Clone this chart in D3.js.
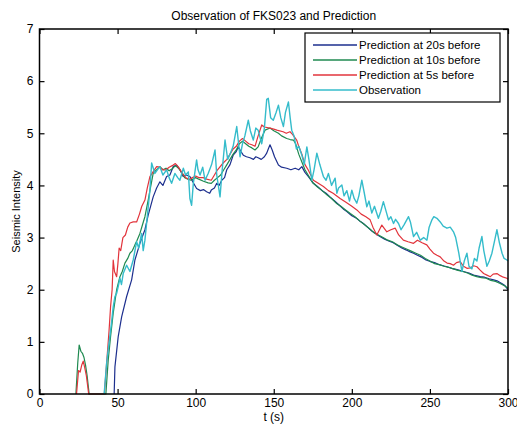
<!DOCTYPE html>
<html>
<head>
<meta charset="utf-8">
<script src="https://cdn.jsdelivr.net/npm/d3@7"></script>
<style>
  body { margin: 0; background: #fff; }
  svg { font-family: "Liberation Sans", Arial, sans-serif; }
</style>
</head>
<body>
<div id="chart"></div>
<script>
// [t (s), seismic intensity]
const pred20 = [
  [47.8,0],[48.3,0.52],[50.4,1.1],[52.6,1.48],[55.8,1.87],[59,2.19],[61.1,2.57],[64.3,2.89],[67.5,3.15],[69.6,3.43],
  [72.8,3.78],[75,3.95],[77.1,4.07],[79,4.0],[81.4,4.17],[83.5,4.2],[85.6,4.36],[87.8,4.39],[90,4.3],[92,4.17],
  [94,4.2],[96.3,4.17],[98.5,4.05],[100.6,3.94],[103,3.9],[105,3.92],[107,3.88],[109,3.85],[110,3.91],[112,3.95],
  [113.5,4.04],[115,4.0],[116.7,4.1],[118.5,4.15],[119.9,4.3],[122,4.4],[124,4.58],[126,4.65],[127.3,4.74],[129,4.65],
  [130.5,4.58],[132.5,4.55],[134.8,4.53],[137,4.5],[138.5,4.55],[140,4.53],[142,4.5],[144,4.55],[145.5,4.62],[146.5,4.7],
  [147.6,4.78],[149,4.68],[150.5,4.55],[153,4.39],[155,4.35],[158.3,4.33],[161,4.3],[163.7,4.33],[166,4.3],[168,4.36],
  [170,4.25],[172.2,4.17],[175.4,4.04],[178,3.98],[181,3.9],[183.5,3.85],[186,3.78],[189,3.7],[192,3.62],[194.5,3.55],
  [196.8,3.5],[200,3.42],[203,3.37],[205,3.32],[207.4,3.27],[210,3.2],[213,3.12],[216,3.06],[218,3.02],[221,2.97],
  [224,2.93],[226.5,2.9],[228.8,2.86],[232,2.8],[235,2.76],[237,2.73],[239.5,2.7],[242,2.66],[245,2.62],[247.5,2.57],
  [250.2,2.54],[253,2.52],[256,2.48],[258.5,2.46],[260.9,2.44],[264,2.41],[268,2.38],[271.5,2.35],[275,2.32],[278,2.28],
  [282.2,2.25],[285,2.24],[288,2.21],[290.8,2.19],[293,2.17],[296,2.12],[298,2.08],[300,2.0]
];

const pred10 = [
  [23.3,0],[24.5,0.6],[25.4,0.94],[26.5,0.82],[27.5,0.78],[28.5,0.7],[29.5,0.55],[30.5,0.35],[31.8,0],[42.5,0],
  [44,0.65],[45.5,1.1],[47.2,1.55],[49.4,2.0],[51.5,2.25],[53,2.35],[54.7,2.51],[56.5,2.6],[57.9,2.7],[59.5,2.75],
  [61.1,2.86],[62.5,2.95],[64.3,3.08],[66,3.25],[67.5,3.4],[69.6,3.72],[71,3.95],[72.8,4.23],[75,4.3],[77.1,4.36],
  [79,4.3],[81,4.33],[83,4.28],[85,4.32],[87,4.38],[89,4.33],[91,4.25],[93,4.15],[95,4.12],[97,4.1],
  [100,4.15],[102,4.12],[105,4.08],[108,4.05],[110,4.04],[112,4.1],[114,4.15],[116,4.2],[118,4.3],[120,4.4],
  [122,4.5],[124,4.6],[126,4.68],[128,4.8],[130,4.85],[132,4.8],[134,4.75],[136,4.72],[138,4.68],[140,4.74],
  [142,4.9],[144.4,5.06],[147.6,5.1],[150,5.05],[153,5.0],[155,4.95],[158.3,4.9],[160.5,4.88],[162.6,4.87],[164,4.8],
  [166,4.6],[168,4.45],[170,4.3],[172,4.2],[175,4.05],[178,3.97],[181,3.9],[184,3.82],[187,3.75],[190,3.66],
  [193,3.6],[196,3.53],[199,3.46],[202,3.4],[205,3.32],[208,3.25],[211,3.18],[214,3.1],[217,3.05],[220,3.0],
  [223,2.95],[226,2.92],[229,2.86],[232,2.82],[235,2.78],[238,2.74],[241,2.7],[244,2.66],[247,2.6],[250,2.55],
  [253,2.5],[256,2.48],[259,2.45],[262,2.43],[265,2.4],[268,2.37],[271,2.35],[274,2.32],[277,2.28],[280,2.25],
  [283,2.23],[286,2.22],[289,2.18],[292,2.16],[295,2.12],[298,2.07],[300,2.03]
];

const pred5 = [
  [23.7,0],[25,0.45],[26,0.42],[27,0.55],[28,0.63],[29,0.5],[30,0.35],[31.5,0],[41.5,0],[43,0.6],
  [44.5,1.2],[45.5,1.67],[46.5,2.0],[47.2,2.57],[48,2.35],[49.4,2.25],[50.2,2.5],[51,2.8],[52,2.75],[53.4,3.0],
  [55,3.05],[56.5,3.2],[57.9,3.28],[60,3.3],[62.2,3.3],[64,3.45],[65.5,3.6],[67.5,3.72],[69,3.95],[70.7,4.17],
  [72.5,4.25],[75,4.36],[77,4.35],[79,4.3],[81,4.3],[83,4.35],[85.6,4.39],[87,4.42],[89,4.35],[91,4.25],
  [94,4.14],[96,4.12],[98,4.15],[100,4.18],[102,4.15],[104.8,4.15],[107,4.12],[110,4.1],[112,4.2],[114,4.3],
  [117.6,4.43],[120,4.5],[122,4.6],[124,4.7],[126,4.75],[128,4.85],[130,4.9],[132,4.85],[134,4.8],[136,4.78],
  [138,4.75],[140,4.95],[142.3,5.16],[144,5.12],[147.6,5.1],[150,5.08],[152,5.06],[156,5.03],[158,5.0],[160.4,5.03],
  [162,4.98],[164.7,4.87],[166,4.75],[168,4.6],[170,4.4],[172,4.3],[175.4,4.1],[178,4.05],[181.8,3.98],[185,3.9],
  [188,3.85],[192.5,3.75],[196,3.68],[200,3.6],[203.2,3.53],[206,3.45],[209,3.4],[211.7,3.34],[213.5,3.2],[216,3.05],
  [219.2,3.24],[222.4,3.11],[225,3.15],[227.8,3.18],[230,3.05],[233,2.95],[236,2.92],[239.5,2.89],[242,2.95],[245,2.9],
  [248,2.86],[250,2.78],[252.3,2.7],[254.5,2.66],[256.6,2.63],[259,2.55],[261,2.51],[263,2.5],[265.1,2.47],[267,2.52],
  [269.4,2.54],[271.5,2.45],[273.7,2.41],[276,2.42],[278,2.46],[280.1,2.44],[282,2.38],[284.4,2.31],[286.5,2.28],[288.7,2.25],
  [290.5,2.3],[292.9,2.31],[295,2.27],[297,2.24],[299.3,2.22],[300,2.2]
];

const observation = [
  [41.4,0],[43,0.6],[44.6,1.0],[46.1,1.36],[47.2,1.67],[48.3,1.87],[49.4,1.93],[50.4,2.06],[51.5,2.22],[52.5,2.1],
  [53.6,2.31],[55.8,2.47],[57.9,2.35],[60,2.57],[62.2,2.92],[63.5,2.8],[65.4,3.08],[66.4,2.75],[67.5,2.95],[69,3.4],
  [70.7,3.91],[71.8,4.43],[73.9,4.23],[75.5,4.3],[77.1,4.36],[79,4.2],[81.4,4.3],[83,4.15],[84.6,4.04],[86.7,4.23],
  [88.5,4.15],[89.9,4.1],[92.1,4.33],[93.5,4.2],[95.3,4.26],[96.3,3.75],[97.4,3.62],[98.5,4.04],[100.6,4.49],[101.5,4.3],
  [102.8,4.2],[104.5,4.35],[106,4.1],[108,4.23],[110.2,4.4],[112.4,4.68],[113.5,4.2],[115.6,3.78],[117,4.3],[118.8,4.87],
  [120.5,4.5],[122,4.6],[124,4.75],[126.3,5.13],[128.4,4.55],[130,4.8],[131.5,4.95],[133.7,5.25],[135,5.05],[136.9,4.87],
  [138.5,5.1],[140,5.06],[142.3,4.8],[144,5.1],[145.5,5.65],[146.5,5.67],[148,5.3],[149.7,5.25],[151.5,5.4],[153,5.54],
  [154.5,5.3],[156.2,5.13],[157.5,5.4],[159.4,5.6],[160.5,5.3],[161.5,5.06],[163,4.95],[164.5,4.7],[166,4.75],[168,4.58],
  [169.5,4.4],[171.2,4.74],[172.5,4.5],[174.4,4.1],[175.8,4.3],[177.6,4.62],[179.5,4.4],[181.8,4.17],[183.5,4.1],[185,4.23],
  [187,4.0],[189.3,4.14],[190.4,3.85],[191.5,3.95],[193.6,4.01],[195,3.8],[196.8,3.9],[198.5,3.7],[200,3.91],[201.5,3.75],
  [203.2,3.66],[204.5,3.8],[206.4,4.1],[208,3.85],[209.6,3.59],[211,3.7],[212.8,3.47],[214.5,3.6],[217,3.37],[218.5,3.5],
  [220.2,3.69],[221.5,3.55],[223.5,3.34],[225,3.4],[226.7,3.27],[228,3.35],[229.9,3.27],[231.5,3.15],[233.5,3.25],[236.3,3.4],
  [237.5,3.3],[239.5,3.02],[241.5,3.1],[243.8,2.95],[246,3.0],[248.1,2.95],[249.5,3.2],[251.3,3.34],[252.5,3.4],[254.5,3.37],
  [256.6,3.3],[258.5,3.22],[260.9,3.18],[263,3.2],[265.1,3.11],[266.5,3.0],[268.5,2.7],[270.5,2.35],[272,2.55],[273.7,2.7],
  [275,2.45],[276.9,2.4],[278.5,2.6],[280.1,2.55],[281.5,2.8],[283.3,3.02],[284.5,2.75],[286.5,2.45],[288,2.55],[289.7,2.7],
  [291.5,2.95],[292.9,3.15],[294.5,2.9],[296.2,2.7],[297.5,2.6],[299.3,2.57],[300,2.55]
];

const seriesNames = ["Prediction at 20s before", "Prediction at 10s before", "Prediction at 5s before", "Observation"];
const seriesColors = ["#1d2f8e", "#1f8a50", "#e2343c", "#35bccb"];
const xTicks = [0, 50, 100, 150, 200, 250, 300];
const yTicks = [0, 1, 2, 3, 4, 5, 6, 7];

const W = 517, H = 425;
const margin = {top: 29, right: 9, bottom: 31, left: 39.5};
const width = W - margin.left - margin.right;
const height = H - margin.top - margin.bottom;

const svg = d3.select("#chart").append("svg")
    .attr("width", W)
    .attr("height", H);

const g = svg.append("g")
    .attr("transform", `translate(${margin.left},${margin.top})`);

const x = d3.scaleLinear().domain([0, 300]).range([0, width]);
const y = d3.scaleLinear().domain([0, 7]).range([height, 0]);

const line = d3.line()
    .x(d => x(d[0]))
    .y(d => y(d[1]));

[pred20, pred10, pred5, observation].forEach((s, i) => {
    g.append("path")
        .datum(s)
        .attr("fill", "none")
        .attr("stroke", seriesColors[i])
        .attr("stroke-width", i === 3 ? 1.4 : 1.2)
        .attr("stroke-linejoin", "round")
        .attr("d", line);
});

// axes, matlab style: ticks inside, box round the plot
const tickLen = 5;
g.append("g")
    .attr("transform", `translate(0,${height})`)
    .call(d3.axisBottom(x).tickValues(xTicks).tickSize(-tickLen).tickPadding(4).tickFormat(d3.format("d")))
    .call(a => a.select(".domain").remove());
g.append("g")
    .call(d3.axisTop(x).tickValues(xTicks).tickSize(-tickLen).tickFormat(""))
    .call(a => a.select(".domain").remove());
g.append("g")
    .call(d3.axisLeft(y).tickValues(yTicks).tickSize(-tickLen).tickPadding(6).tickFormat(d3.format("d")))
    .call(a => a.select(".domain").remove());
g.append("g")
    .attr("transform", `translate(${width},0)`)
    .call(d3.axisRight(y).tickValues(yTicks).tickSize(-tickLen).tickFormat(""))
    .call(a => a.select(".domain").remove());

g.selectAll(".tick line").attr("stroke", "#000").attr("stroke-width", 1.2);
g.selectAll(".tick text").attr("fill", "#000").style("font-size", "12px");

g.append("rect")
    .attr("width", width)
    .attr("height", height)
    .attr("fill", "none")
    .attr("stroke", "#000")
    .attr("stroke-width", 1.5);

// title and labels
svg.append("text")
    .attr("x", margin.left + width / 2)
    .attr("y", 20)
    .attr("text-anchor", "middle")
    .style("font-size", "12px")
    .text("Observation of FKS023 and Prediction");

svg.append("text")
    .attr("x", margin.left + width / 2)
    .attr("y", 421)
    .attr("text-anchor", "middle")
    .style("font-size", "12px")
    .text("t (s)");

svg.append("text")
    .attr("transform", `translate(20,${margin.top + height / 2}) rotate(-90)`)
    .attr("text-anchor", "middle")
    .style("font-size", "11px")
    .text("Seismic Intensity");

// legend
const legend = svg.append("g").attr("transform", "translate(305,33)");
legend.append("rect")
    .attr("width", 195)
    .attr("height", 69)
    .attr("fill", "#fff")
    .attr("stroke", "#000")
    .attr("stroke-width", 1.2);

seriesNames.forEach((name, i) => {
    const ly = 12 + i * 15;
    legend.append("line")
        .attr("x1", 8).attr("x2", 52)
        .attr("y1", ly).attr("y2", ly)
        .attr("stroke", seriesColors[i])
        .attr("stroke-width", 1.3);
    legend.append("text")
        .attr("x", 54)
        .attr("y", ly)
        .attr("dy", "0.35em")
        .style("font-size", "11.5px")
        .text(name);
});
</script>
</body>
</html>
